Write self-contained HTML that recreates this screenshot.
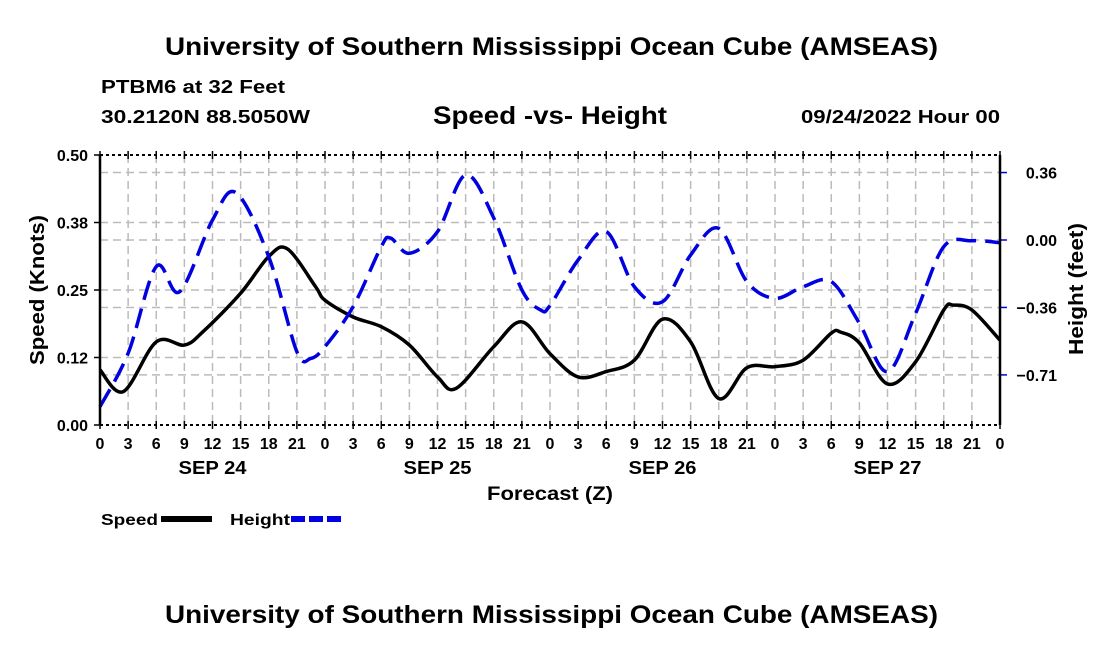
<!DOCTYPE html>
<html><head><meta charset="utf-8"><style>
body{margin:0;background:#fff;}
svg text{font-family:"Liberation Sans",sans-serif;font-weight:bold;}
</style></head><body>
<svg id="chart" width="1100" height="650" xmlns="http://www.w3.org/2000/svg">
<text x="165" y="55" font-size="25" textLength="773" lengthAdjust="spacingAndGlyphs">University of Southern Mississippi Ocean Cube (AMSEAS)</text>
<text x="101" y="93" font-size="18" textLength="184" lengthAdjust="spacingAndGlyphs">PTBM6 at 32 Feet</text>
<text x="101" y="123" font-size="18" textLength="209" lengthAdjust="spacingAndGlyphs">30.2120N  88.5050W</text>
<text x="433" y="124" font-size="25" textLength="234" lengthAdjust="spacingAndGlyphs">Speed -vs- Height</text>
<text x="801" y="123" font-size="18" textLength="199" lengthAdjust="spacingAndGlyphs">09/24/2022 Hour 00</text>
<g id="grid"></g>
<g id="series"></g>
<g id="axes"></g>
<text transform="translate(44,365) rotate(-90)" font-size="20" textLength="150" lengthAdjust="spacingAndGlyphs">Speed (Knots)</text>
<text transform="translate(1083,355) rotate(-90)" font-size="20" textLength="132" lengthAdjust="spacingAndGlyphs">Height (feet)</text>
<text x="487" y="500" font-size="19" textLength="126" lengthAdjust="spacingAndGlyphs">Forecast (Z)</text>
<g>
<text x="101" y="525" font-size="16" textLength="57" lengthAdjust="spacingAndGlyphs">Speed</text>
<rect x="161" y="516" width="51" height="6" fill="#000"/>
<text x="230" y="525" font-size="16" textLength="60" lengthAdjust="spacingAndGlyphs">Height</text>
<line x1="291" y1="519" x2="342" y2="519" stroke="#0000e0" stroke-width="6" stroke-dasharray="14,4"/>
</g>
<text x="165" y="623" font-size="25" textLength="773" lengthAdjust="spacingAndGlyphs">University of Southern Mississippi Ocean Cube (AMSEAS)</text>
</svg>
<script>
const speedHours=[0,2.5,6,9,11,15,18,20,23,24,27,30,33,36,38,42,45,48,51,54,57,60,63,66,69,72,75,78,79,81,84,87,90,91,93,96];
const speedValues=[0.102,0.062,0.154,0.148,0.173,0.244,0.312,0.326,0.256,0.231,0.2,0.182,0.148,0.089,0.068,0.145,0.191,0.132,0.089,0.099,0.12,0.196,0.154,0.049,0.106,0.108,0.12,0.17,0.172,0.152,0.076,0.117,0.213,0.222,0.213,0.157];
const heightHours=[0,3,6,8.5,12,14.5,18,21,22.5,24,27,30,31,33,36,39,42,45,47,48,51,54,57,60,63,66,69,72,75,78,81,84,87,90,93,96];
const heightValues=[-0.877,-0.596,-0.14,-0.272,0.105,0.249,-0.088,-0.588,-0.623,-0.561,-0.351,-0.035,0.01,-0.07,0.044,0.342,0.116,-0.263,-0.368,-0.345,-0.105,0.044,-0.246,-0.325,-0.079,0.061,-0.219,-0.307,-0.246,-0.219,-0.438,-0.693,-0.386,-0.035,-0.004,-0.014];
const speedTicks=[0,0.125,0.25,0.375,0.5];
const speedTickLabels=["0.00","0.12","0.25","0.38","0.50"];
const heightTicks=[0.355,0,-0.355,-0.71];
const heightTickLabels=["0.36","0.00","\u22120.36","\u22120.71"];
const hourLabels=["0","3","6","9","12","15","18","21"];
const dayLabels=["SEP 24","SEP 25","SEP 26","SEP 27"];
const L=100,R=1000,T=155,B=425;
const xS=h=>L+(R-L)*h/96;
const yS=v=>B-(B-T)*v/0.5;
const yH=v=>240-v*190;
const NS="http://www.w3.org/2000/svg";
function mk(tag,attrs,parent){const e=document.createElementNS(NS,tag);for(const k in attrs)e.setAttribute(k,attrs[k]);parent.appendChild(e);return e;}
const grid=document.getElementById('grid'),axes=document.getElementById('axes'),series=document.getElementById('series');
for(let h=3;h<96;h+=3){const g=mk('line',{x1:xS(h),x2:xS(h),y1:T,y2:B,stroke:'#bbb','stroke-width':1.5,'stroke-dasharray':'8,5'},grid);

}
speedTicks.forEach((v,i)=>{const y=yS(v);
if(i>0&&i<4){const g=mk('line',{x1:L,x2:R,y1:y,y2:y,stroke:'#bbb','stroke-width':1.5,'stroke-dasharray':'8,5'},grid);

}
const t=mk('line',{x1:L-6,x2:L,y1:y,y2:y,stroke:'#000','stroke-width':1.5},axes);


const tx=mk('text',{x:L-12,y:y+6,'font-size':16,'text-anchor':'end'},axes);tx.textContent=speedTickLabels[i];

});
heightTicks.forEach((v,i)=>{const y=yH(v);
const g=mk('line',{x1:L,x2:R,y1:y,y2:y,stroke:'#bbb','stroke-width':1.5,'stroke-dasharray':'8,5'},grid);


const t=mk('line',{x1:R,x2:R+7,y1:y,y2:y,stroke:'#0000e0','stroke-width':1.5},axes);


const tx=mk('text',{x:1057,y:y+6,'font-size':16,'text-anchor':'end'},axes);tx.textContent=heightTickLabels[i];

});
for(let h=0;h<=96;h+=3){const x=xS(h);
mk('line',{x1:x,x2:x,y1:T-4,y2:T+4,stroke:'#000','stroke-width':1.5},axes);
mk('line',{x1:x,x2:x,y1:B-4,y2:B+4,stroke:'#000','stroke-width':1.5},axes);
const tx=mk('text',{x:x,y:B+24,'font-size':16,'text-anchor':'middle'},axes);tx.textContent=hourLabels[(h/3)%8];

}
dayLabels.forEach((d,i)=>{const tx=mk('text',{x:xS(12+24*i)-34,y:B+49,'font-size':18,textLength:68,lengthAdjust:'spacingAndGlyphs'},axes);tx.textContent=d;

});
[T,B].forEach(y=>{const l=mk('line',{x1:L,x2:R,y1:y,y2:y,stroke:'#000','stroke-width':2,'stroke-dasharray':'3,3'},axes);

});
[L,R].forEach(x=>{const l=mk('line',{x1:x,x2:x,y1:T,y2:B,stroke:'#000','stroke-width':2.5},axes);

});
function smooth(pts){let d=`M${pts[0][0]},${pts[0][1]}`;for(let i=0;i<pts.length-1;i++){const p0=pts[Math.max(0,i-1)],p1=pts[i],p2=pts[i+1],p3=pts[Math.min(pts.length-1,i+2)];
d+=` C${p1[0]+(p2[0]-p0[0])/6},${p1[1]+(p2[1]-p0[1])/6} ${p2[0]-(p3[0]-p1[0])/6},${p2[1]-(p3[1]-p1[1])/6} ${p2[0]},${p2[1]}`;}return d;}
const sp=mk('path',{d:smooth(speedHours.map((h,i)=>[xS(h),yS(speedValues[i])])),fill:'none',stroke:'#000','stroke-width':3.5},series);


const hp=mk('path',{d:smooth(heightHours.map((h,i)=>[xS(h),yH(heightValues[i])])),fill:'none',stroke:'#0000e0','stroke-width':3.5,'stroke-dasharray':'20,9'},series);


</script>
</body></html>
